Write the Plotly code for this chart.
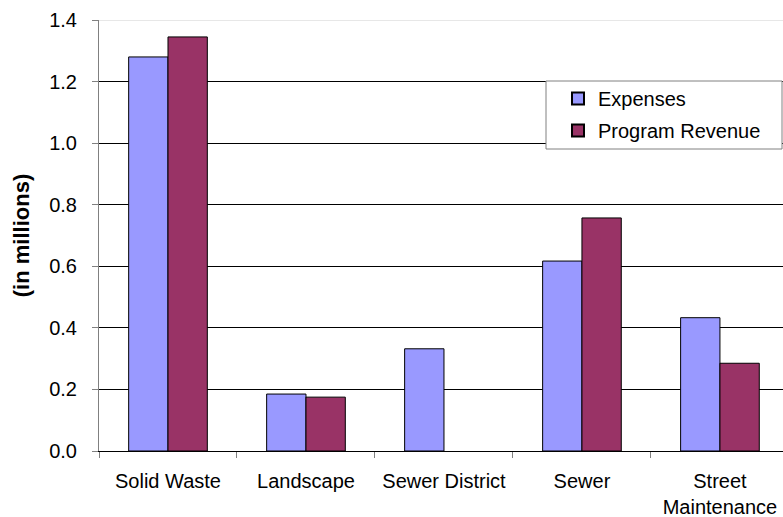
import plotly.graph_objects as go

categories = ["Solid Waste", "Landscape", "Sewer District", "Sewer", "Street<br>Maintenance"]
expenses = [1.28, 0.185, 0.332, 0.617, 0.433]
program_revenue = [1.345, 0.175, None, 0.757, 0.285]
y_ticks = [0.0, 0.2, 0.4, 0.6, 0.8, 1.0, 1.2, 1.4]
y_tick_labels = ["0.0", "0.2", "0.4", "0.6", "0.8", "1.0", "1.2", "1.4"]

FONT = "Liberation Sans, Arial, sans-serif"
FS = 20

fig = go.Figure()
fig.add_trace(go.Bar(
    x=categories, y=expenses, name="Expenses", legendgroup="a",
    marker=dict(color="#9999FF", line=dict(color="#000000", width=1)),
))
fig.add_trace(go.Bar(
    x=categories, y=program_revenue, name="Program Revenue", legendgroup="b",
    marker=dict(color="#993366", line=dict(color="#000000", width=1)),
))

fig.update_layout(
    width=783, height=517,
    margin=dict(l=99, r=0, t=20, b=66),
    paper_bgcolor="white", plot_bgcolor="white",
    barmode="group", bargap=0.43, bargroupgap=0,
    font=dict(family=FONT, size=FS, color="#000000"),
    showlegend=True,
    legend=dict(
        x=(558 - 99) / 684, y=(451 - 79) / 431, xanchor="left", yanchor="top",
        bgcolor="rgba(0,0,0,0)", borderwidth=0,
        font=dict(family=FONT, size=FS, color="#000000"),
        tracegroupgap=3,
        itemsizing="constant",
    ),
    shapes=[
        # legend frame
        dict(type="rect", xref="paper", yref="paper",
             x0=(546 - 99) / 684, x1=(782 - 99) / 684,
             y0=(451 - 149) / 431, y1=(451 - 81) / 431,
             line=dict(color="#808080", width=1), fillcolor="white", layer="above"),
        # light top border of the plot area
        dict(type="line", xref="paper", yref="y", x0=0, x1=1,
             y0=y_ticks[-1], y1=y_ticks[-1],
             line=dict(color="#D0D0D0", width=1), layer="above"),
    ],
)

fig.update_xaxes(
    range=[-0.5, 4.457], automargin=False,
    showline=True, linecolor="#000000", linewidth=1,
    ticks="outside", ticklen=6, tickcolor="#808080", tickson="boundaries",
    showgrid=False, zeroline=False,
    ticklabelstandoff=12,
    tickfont=dict(family=FONT, size=FS),
)

fig.update_yaxes(
    range=[0, 1.4], automargin=False,
    tickvals=y_ticks, ticktext=y_tick_labels,
    showline=True, linecolor="#808080", linewidth=1,
    ticks="outside", ticklen=6, tickcolor="#808080",
    showgrid=True, gridcolor="#000000", gridwidth=1,
    zeroline=False,
    ticklabelstandoff=11,
    tickfont=dict(family=FONT, size=FS),
    title=dict(text="<b>(in millions)</b>", font=dict(family=FONT, size=22), standoff=13),
)

fig.write_html("out.html")
